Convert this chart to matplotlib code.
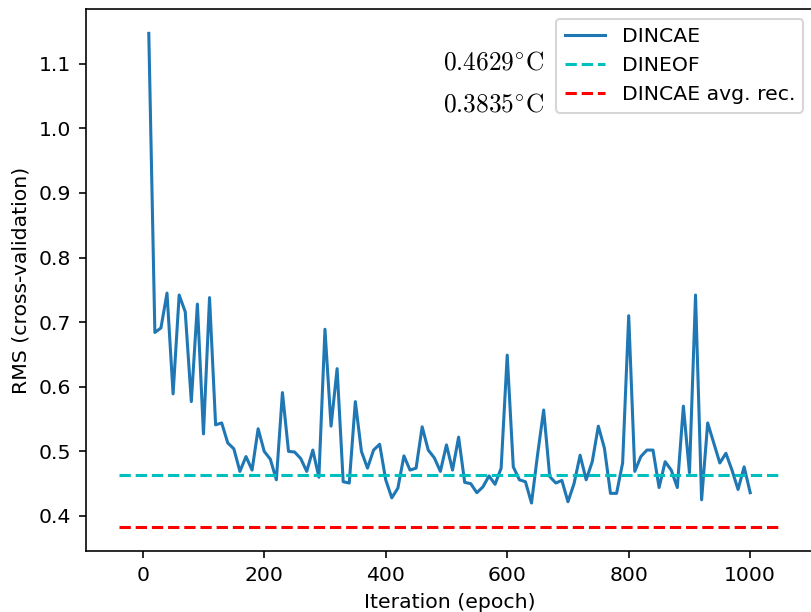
import numpy as np
import matplotlib
matplotlib.use("Agg")
import matplotlib.pyplot as plt

# ------------------------------------------
# DATA
# ------------------------------------------

epochs = np.arange(10, 1001, 10)

rms_dincae = [
    1.147, 0.684, 0.691, 0.745, 0.589, 0.742, 0.716, 0.577, 0.728, 0.527,
    0.738, 0.541, 0.544, 0.513, 0.504, 0.469, 0.492, 0.471, 0.535, 0.500,
    0.488, 0.456, 0.591, 0.500, 0.499, 0.489, 0.469, 0.502, 0.460, 0.689,
    0.539, 0.628, 0.453, 0.451, 0.577, 0.500, 0.474, 0.502, 0.511, 0.456,
    0.428, 0.443, 0.493, 0.471, 0.474, 0.538, 0.502, 0.490, 0.469, 0.510,
    0.471, 0.522, 0.452, 0.450, 0.436, 0.445, 0.462, 0.449, 0.474, 0.649,
    0.476, 0.456, 0.453, 0.420, 0.495, 0.564, 0.461, 0.451, 0.455, 0.422,
    0.450, 0.494, 0.456, 0.484, 0.539, 0.505, 0.435, 0.435, 0.482, 0.710,
    0.469, 0.492, 0.502, 0.502, 0.444, 0.484, 0.471, 0.444, 0.570, 0.467,
    0.742, 0.425, 0.544, 0.513, 0.482, 0.497, 0.471, 0.441, 0.476, 0.436,
]

rms_dineof = 0.4629
rms_avg_rec = 0.3835

labels = ["DINCAE", "DINEOF", "DINCAE avg. rec."]
annotations = [r"$0.4629^{\circ}\mathrm{C}$", r"$0.3835^{\circ}\mathrm{C}$"]

# ------------------------------------------
# STYLE (default look, scaled up)
# ------------------------------------------

s = 1.466
plt.rcParams.update({
    "font.size": 10 * s,
    "lines.linewidth": 1.5 * s,
    "axes.linewidth": 0.8 * s,
    "patch.linewidth": 1.0 * s,
    "xtick.major.size": 3.5 * s,
    "ytick.major.size": 3.5 * s,
    "xtick.major.width": 0.8 * s,
    "ytick.major.width": 0.8 * s,
    "xtick.major.pad": 3.5 * s,
    "ytick.major.pad": 3.5 * s,
    "axes.labelpad": 4 * s,
    "mathtext.fontset": "cm",
})

fig = plt.figure(figsize=(8.11, 6.12), dpi=100)
ax = fig.add_axes([0.1056, 0.0992, 0.8973, 0.8866])

ax.plot(epochs, rms_dincae, color="#1f77b4", label=labels[0])

# reference lines span the line's own auto range
span = epochs.max() - epochs.min()
x_ref = [epochs.min() - 0.05 * span, epochs.max() + 0.05 * span]
ax.plot(x_ref, [rms_dineof] * 2, "c--", label=labels[1])
ax.plot(x_ref, [rms_avg_rec] * 2, "r--", label=labels[2])

ax.set_xlabel("Iteration (epoch)")
ax.set_ylabel("RMS (cross-validation)")
ax.set_xticks([0, 200, 400, 600, 800, 1000])
ax.set_yticks([0.4, 0.5, 0.6, 0.7, 0.8, 0.9, 1.0, 1.1])
ax.legend(loc="upper right")

fig.text(443 / 811, 1 - 70 / 612, annotations[0], fontsize=18.3, va="baseline")
fig.text(443 / 811, 1 - 111 / 612, annotations[1], fontsize=18.3, va="baseline")

fig.savefig("out.png", dpi=100)
